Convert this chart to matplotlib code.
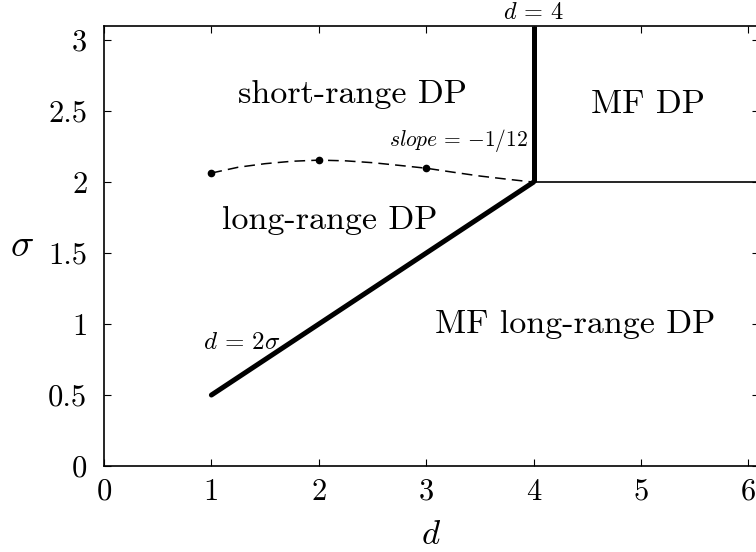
import matplotlib
matplotlib.use("Agg")
from matplotlib import pyplot as plt

plt.rcParams["font.family"] = "serif"
plt.rcParams["font.serif"] = ["cmr10"]
plt.rcParams["mathtext.fontset"] = "cm"
plt.rcParams["axes.unicode_minus"] = False

# phase boundaries (d, sigma)
border_lr_d = [1, 4]
border_lr_sigma = [0.5, 2]
border_d4_d = [4, 4]
border_d4_sigma = [2, 3.1]
border_mf_d = [4, 6.1]
border_mf_sigma = [2, 2]

# numerical estimates of the short/long-range boundary
sim_d = [1, 2, 3]
sim_sigma = [2.064, 2.155, 2.098]

# guide curve through the estimates, ending at (4, 2)
guide_d = [1.0, 1.25, 1.5, 1.75, 2.0, 2.25, 2.5, 2.75, 3.0, 3.25, 3.5, 3.75, 4.0]
guide_sigma = [2.064, 2.105, 2.130, 2.147, 2.155, 2.150, 2.137, 2.118, 2.098,
               2.070, 2.043, 2.021, 2.0]

xticks = [0, 1, 2, 3, 4, 5, 6]
yticks = [0, 0.5, 1, 1.5, 2, 2.5, 3]
ytick_labels = ["0", "0.5", "1", "1.5", "2", "2.5", "3"]

fig = plt.figure(figsize=(7.56, 5.52), dpi=100)
ax = fig.add_axes([0.1376, 0.1558, 0.8664, 0.7971])

ax.plot(border_lr_d, border_lr_sigma, color="black", lw=3.6, solid_capstyle="round")
ax.plot(border_d4_d, border_d4_sigma, color="black", lw=3.6, solid_capstyle="butt")
ax.plot(border_mf_d, border_mf_sigma, color="black", lw=1.2)

guide, = ax.plot(guide_d, guide_sigma, color="black", lw=1.1)
guide.set_dashes([7, 4])
ax.plot(sim_d, sim_sigma, "o", color="black", ms=4.5)

ax.set_xlim(0, 6.1)
ax.set_ylim(0, 3.1)
ax.set_xticks(xticks)
ax.set_xticklabels([str(t) for t in xticks])
ax.set_yticks(yticks)
ax.set_yticklabels(ytick_labels)
ax.tick_params(direction="in", top=True, right=True, length=5, width=0.8,
               labelsize=22)
ax.tick_params(axis="y", pad=12)
ax.tick_params(axis="x", pad=9)
for s in ax.spines.values():
    s.set_linewidth(1.2)

ax.set_xlabel(r"$d$", fontsize=25, labelpad=10)
ax.set_ylabel(r"$\sigma$", fontsize=28, rotation=0, va="center")
ax.yaxis.set_label_coords(-0.125, 0.5)

ax.text(2.31, 2.62, "short-range DP", fontsize=24.5, ha="center", va="center")
ax.text(5.07, 2.55, "MF DP", fontsize=24.5, ha="center", va="center")
ax.text(2.10, 1.73, "long-range DP", fontsize=24.5, ha="center", va="center")
ax.text(4.39, 1.00, "MF long-range DP", fontsize=24.5, ha="center", va="center")
ax.text(3.30, 2.29, r"$slope\,=\,{-}1/12$", fontsize=15.5, ha="center", va="center")
ax.text(1.28, 0.87, r"$d\,=\,2\sigma$", fontsize=18, ha="center", va="center")
ax.text(4.0, 3.115, r"$d\,=\,4$", fontsize=17.5, ha="center", va="bottom")

fig.savefig("out.png", dpi=100)
